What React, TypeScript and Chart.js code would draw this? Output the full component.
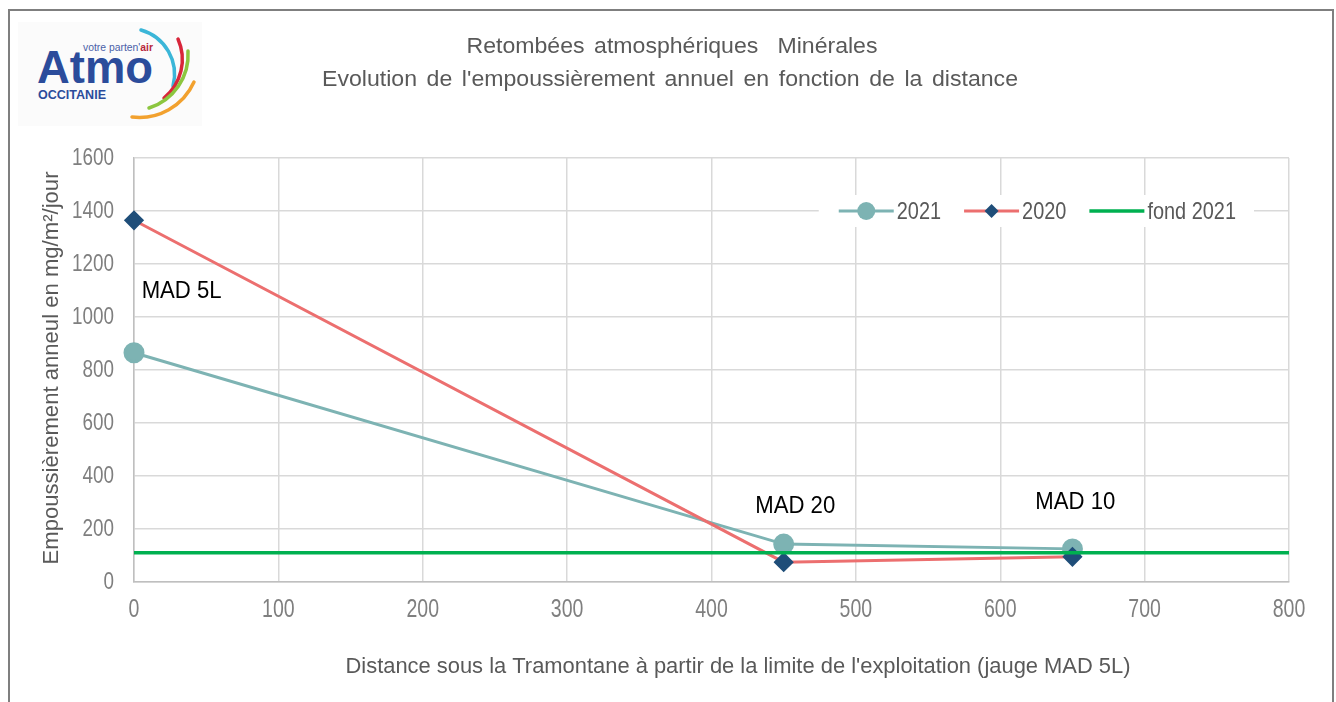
import React, { useEffect, useRef } from "react";
import { Chart, registerables } from "chart.js";

Chart.register(...registerables);

// ---- data ----
const distances = [0, 450, 650];
const values2021 = [865, 143, 125];
const values2020 = [1365, 75, 95];
const fondDistances = [0, 800];
const fond2021 = [110, 110];
const seriesNames = ["2021", "2020", "fond 2021"];
const siteLabels = ["MAD 5L", "MAD 20", "MAD 10"];
const siteLabelX = [33, 458, 652];
const siteLabelY = [1095, 283, 298];
const xTicks = [0, 100, 200, 300, 400, 500, 600, 700, 800];
const yTicks = [0, 200, 400, 600, 800, 1000, 1200, 1400, 1600];
const titleLines = [
  "Retombées atmosphériques  Minérales",
  "Evolution de l'empoussièrement annuel en fonction de la distance",
];
const xTitle = "Distance sous la Tramontane à partir de la limite de l'exploitation (jauge MAD 5L)";
const yTitle = "Empoussièrement anneul en mg/m²/jour";

const REG = "'Liberation Sans', Arial, sans-serif";
const C2021 = "#7db3b3";
const C2020 = "#ec6f6f";
const C2020M = "#1f4e79";
const CFOND = "#00b050";
const GRAY_TXT = "#595959";
const TICK_TXT = "#7f7f7f";

// draw text horizontally condensed by sx
function drawText(ctx: any, text: string, x: number, y: number, size: number, sx: number, align: string, color: string) {
  ctx.save();
  ctx.font = `${size}px ${REG}`;
  ctx.fillStyle = color;
  ctx.textBaseline = "middle";
  ctx.textAlign = align;
  ctx.translate(x, y);
  ctx.scale(sx, 1);
  ctx.fillText(text, 0, 0);
  ctx.restore();
}

// draw text fitted to a target width
function drawFit(ctx: any, text: string, x: number, y: number, size: number, width: number, color: string) {
  ctx.save();
  ctx.font = `${size}px ${REG}`;
  const w = ctx.measureText(text).width;
  ctx.restore();
  drawText(ctx, text, x, y, size, width / w, "center", color);
}

const decorPlugin = {
  id: "decor",
  afterDatasetsDraw(chart: any) {
    const { ctx, scales, chartArea } = chart;
    const xs = scales.x;
    const ys = scales.y;
    ctx.save();

    // tick labels
    xs.ticks.forEach((t: any) => {
      drawText(ctx, String(t.value), xs.getPixelForValue(t.value), chartArea.bottom + 28, 25, 0.78, "center", TICK_TXT);
    });
    ys.ticks.forEach((t: any) => {
      drawText(ctx, String(t.value), chartArea.left - 20, ys.getPixelForValue(t.value) + 1, 23, 0.82, "right", TICK_TXT);
    });

    // title
    ctx.save();
    (ctx as any).wordSpacing = "3px";
    drawFit(ctx, titleLines[0], 672, 47, 22, 411, GRAY_TXT);
    drawFit(ctx, titleLines[1], 670, 80, 22, 696, GRAY_TXT);
    ctx.restore();

    // axis titles
    drawFit(ctx, xTitle, 738, 667, 22, 785, GRAY_TXT);
    ctx.save();
    ctx.translate(52, 368);
    ctx.rotate(-Math.PI / 2);
    drawFit(ctx, yTitle, 0, 0, 22, 393, GRAY_TXT);
    ctx.restore();

    // site labels
    siteLabels.forEach((t, i) => {
      drawFit(ctx, t, xs.getPixelForValue(siteLabelX[i]), ys.getPixelForValue(siteLabelY[i]), 23, 80, "#000000");
    });

    // legend
    const ly = ys.getPixelForValue(1400);
    const lsize = 24;
    const lsx = 0.83;
    const lineLen = 55;
    const gap = 3;
    const itemGap = 23;
    ctx.font = `${lsize}px ${REG}`;
    const widths = seriesNames.map((n) => lineLen + gap + ctx.measureText(n).width * lsx);
    const total = widths.reduce((a, b) => a + b, 0) + itemGap * (widths.length - 1);
    const right = chartArea.right - 50;
    let x = right - total - 3;
    ctx.fillStyle = "#ffffff";
    ctx.fillRect(x - 20, ly - 16, total + 38, 32);
    chart.data.datasets.forEach((ds: any, i: number) => {
      ctx.strokeStyle = ds.borderColor;
      ctx.lineWidth = ds.borderWidth;
      ctx.beginPath();
      ctx.moveTo(x, ly);
      ctx.lineTo(x + lineLen, ly);
      ctx.stroke();
      if (ds.pointRadius > 0) {
        ctx.fillStyle = ds.pointBackgroundColor;
        const cx = x + lineLen / 2;
        ctx.beginPath();
        if (ds.pointStyle === "rectRot") {
          const r = ds.pointRadius - 1;
          ctx.moveTo(cx, ly - r);
          ctx.lineTo(cx + r, ly);
          ctx.lineTo(cx, ly + r);
          ctx.lineTo(cx - r, ly);
          ctx.closePath();
        } else {
          ctx.arc(cx, ly, ds.pointRadius, 0, Math.PI * 2);
        }
        ctx.fill();
      }
      drawText(ctx, seriesNames[i], x + lineLen + gap, ly + 1, lsize, lsx, "left", GRAY_TXT);
      x += widths[i] + itemGap;
    });
    ctx.restore();
  },
};

function Logo() {
  return (
    <svg width={190} height={110} style={{ position: "fixed", left: 15, top: 20 }} viewBox="15 20 190 110">
      <rect x={18} y={22} width={184} height={104} fill="#fbfbfb" />
      <text x={37} y={83} fontFamily="'Liberation Sans', Arial, sans-serif" fontWeight="bold" fontSize={47} fill="#2b4c9b" textLength={116} lengthAdjust="spacingAndGlyphs">
        Atmo
      </text>
      <text x={83} y={51} fontFamily="'Liberation Sans', sans-serif" fontSize={11.5} fill="#4a5fa8" textLength={70} lengthAdjust="spacingAndGlyphs">
        votre parten'<tspan fontWeight="bold" fill="#b8283c">air</tspan>
      </text>
      <text x={38} y={99} fontFamily="'Liberation Sans', Arial, sans-serif" fontWeight="bold" fontSize={12.5} fill="#2b4c9b" textLength={68} lengthAdjust="spacingAndGlyphs">
        OCCITANIE
      </text>
      <g fill="none" strokeWidth={3.5} strokeLinecap="round">
        <path d="M141,30 A46,46 0 0 1 173,86" stroke="#3bb6d8" />
        <path d="M178,39 A50,50 0 0 1 164,98" stroke="#d8263a" />
        <path d="M188,51 A56,56 0 0 1 149,108" stroke="#8cc63f" />
        <path d="M194,82 A60,60 0 0 1 132,117" stroke="#f2a12e" />
      </g>
    </svg>
  );
}

export default function App() {
  const canvasRef = useRef<HTMLCanvasElement | null>(null);
  useEffect(() => {
    if (!canvasRef.current) return;
    const chart = new Chart(canvasRef.current, {
      type: "scatter",
      data: {
        datasets: [
          {
            label: seriesNames[0],
            data: distances.map((d, i) => ({ x: d, y: values2021[i] })),
            showLine: true,
            borderColor: C2021,
            backgroundColor: C2021,
            pointBackgroundColor: C2021,
            pointBorderColor: C2021,
            borderWidth: 3,
            pointRadius: 9,
            pointStyle: "circle",
            order: 3,
            clip: false,
          },
          {
            label: seriesNames[1],
            data: distances.map((d, i) => ({ x: d, y: values2020[i] })),
            showLine: true,
            borderColor: C2020,
            backgroundColor: C2020M,
            pointBackgroundColor: C2020M,
            pointBorderColor: C2020M,
            borderWidth: 3,
            pointRadius: 8,
            pointStyle: "rectRot",
            order: 2,
            clip: false,
          },
          {
            label: seriesNames[2],
            data: fondDistances.map((d, i) => ({ x: d, y: fond2021[i] })),
            showLine: true,
            borderColor: CFOND,
            backgroundColor: CFOND,
            pointBackgroundColor: CFOND,
            borderWidth: 3.5,
            pointRadius: 0,
            order: 1,
          },
        ],
      },
      options: {
        animation: false,
        responsive: true,
        maintainAspectRatio: false,
        layout: { padding: { left: 0, top: 158, right: 47, bottom: 0 } },
        plugins: { legend: { display: false }, tooltip: { enabled: false }, title: { display: false } },
        scales: {
          x: {
            type: "linear",
            min: 0,
            max: 800,
            afterFit: (s: any) => {
              s.height = 120;
            },
            afterBuildTicks: (s: any) => {
              s.ticks = xTicks.map((v) => ({ value: v }));
            },
            ticks: { display: false },
            grid: { color: "#d9d9d9", lineWidth: 1.5, drawTicks: false },
            border: { color: "#bfbfbf", width: 1.5 },
          },
          y: {
            type: "linear",
            min: 0,
            max: 1600,
            afterFit: (s: any) => {
              s.width = 134;
            },
            afterBuildTicks: (s: any) => {
              s.ticks = yTicks.map((v) => ({ value: v }));
            },
            ticks: { display: false },
            grid: { color: "#d9d9d9", lineWidth: 1.5, drawTicks: false },
            border: { color: "#bfbfbf", width: 1.5 },
          },
        },
      },
      plugins: [decorPlugin],
    });
    return () => chart.destroy();
  }, []);

  return (
    <>
      <div style={{ position: "fixed", left: 0, top: 0, width: 1336, height: 702, background: "#ffffff" }}>
        <canvas ref={canvasRef} />
      </div>
      <div
        style={{
          position: "fixed",
          left: 8,
          top: 9,
          width: 1326,
          height: 720,
          border: "2px solid #7f7f7f",
          boxSizing: "border-box",
          pointerEvents: "none",
        }}
      />
      <Logo />
    </>
  );
}
